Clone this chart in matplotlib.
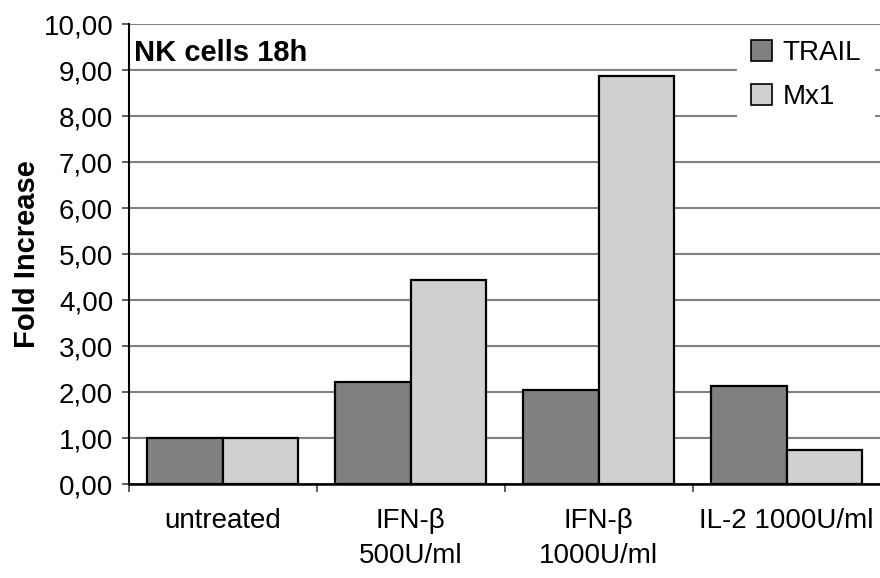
import matplotlib
matplotlib.use("Agg")
import matplotlib.pyplot as plt
import numpy as np
from matplotlib.ticker import FixedLocator, FuncFormatter
from matplotlib.patches import Patch

categories = ["untreated", "IFN-\u03b2\n500U/ml", "IFN-\u03b2\n1000U/ml", "IL-2 1000U/ml"]
trail = [1.00, 2.22, 2.04, 2.13]
mx1 = [1.00, 4.43, 8.86, 0.73]
series_names = ["TRAIL", "Mx1"]
yticks = [0, 1, 2, 3, 4, 5, 6, 7, 8, 9, 10]

plt.rcParams['font.family'] = ['Liberation Sans', 'DejaVu Sans']

fig = plt.figure(figsize=(8.8, 5.78), dpi=100)
ax = fig.add_axes([128.5/880, (578-484)/578, (880.5-128.5)/880, (484-24)/578])

x = np.arange(len(categories))
w = 0.40
c_trail = "#808080"
c_mx1 = "#d0d0d0"
ax.bar(x - w/2, trail, width=w, color=c_trail, edgecolor="black", linewidth=1.6, zorder=3)
ax.bar(x + w/2, mx1, width=w, color=c_mx1, edgecolor="black", linewidth=1.6, zorder=3)

ax.set_xlim(-0.5, len(categories) - 0.5)
ax.set_ylim(0, 10)
ax.yaxis.set_major_locator(FixedLocator(yticks))
ax.yaxis.set_major_formatter(FuncFormatter(lambda v, p: f"{v:.2f}".replace(".", ",")))
ax.grid(axis="y", color="#808080", linewidth=1.5, zorder=0)
ax.set_axisbelow(True)

# category boundary ticks
ax.set_xticks(np.arange(len(categories) + 1) - 0.5)
ax.set_xticklabels([])
ax.set_xticks(x, minor=True)
ax.set_xticklabels(categories, minor=True, fontsize=20, va="top", linespacing=1.45)
ax.tick_params(axis="x", which="minor", length=0, pad=17)
ax.tick_params(axis="x", which="major", length=6, width=1.2, color="#444444")
ax.tick_params(axis="y", length=5, width=1.2, labelsize=20, pad=6, color="#444444")

for s in ["top", "right"]:
    ax.spines[s].set_visible(False)
ax.spines["left"].set_linewidth(1.5)
ax.spines["bottom"].set_linewidth(1.8)

ax.set_ylabel("Fold Increase", fontsize=21, fontweight="bold", labelpad=2)
ax.text(0.007, 0.968, "NK cells 18h", transform=ax.transAxes, fontsize=21,
        fontweight="bold", va="top", ha="left")

handles = [Patch(facecolor=c_trail, edgecolor="black", linewidth=1.2),
           Patch(facecolor=c_mx1, edgecolor="black", linewidth=1.2)]
leg = ax.legend(handles, series_names, loc="upper right", bbox_to_anchor=(0.993, 0.995),
                fontsize=20, frameon=True, facecolor="white", edgecolor="none",
                framealpha=1, fancybox=False, handlelength=0.75, handleheight=0.75,
                handletextpad=0.4, labelspacing=0.65, borderpad=0.5, borderaxespad=0)
leg.set_zorder(5)

fig.savefig("out.png", dpi=100)
